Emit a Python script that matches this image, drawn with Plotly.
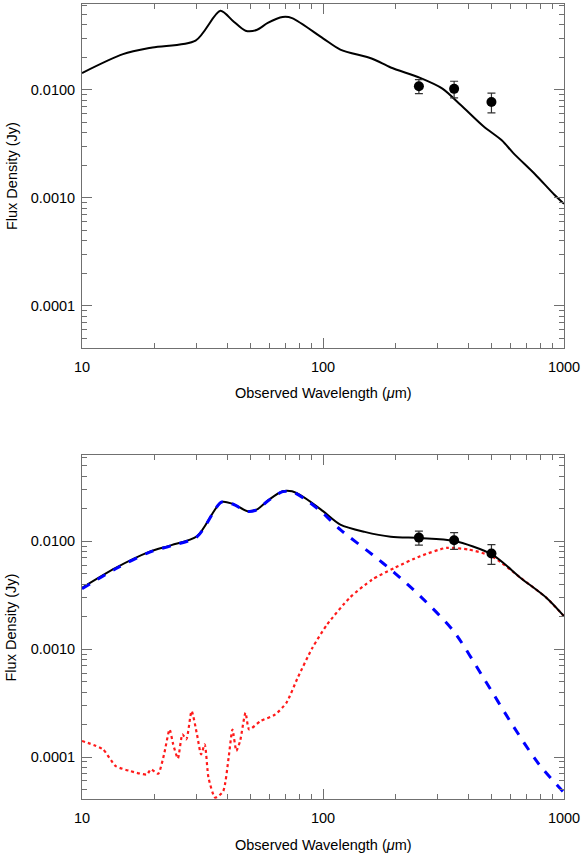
import plotly.graph_objects as go

# ---------------- data ----------------
# Top panel: single-component model SED
top_wave = [10, 14.8, 19.6, 29.6, 37.5, 42.2, 47.7, 53, 59, 68, 74.4, 100, 118, 160, 191,
            253, 313, 374, 463, 553, 615, 760, 910, 1000]
top_flux = [0.0143, 0.0214, 0.0247, 0.0286, 0.054, 0.0437, 0.0353, 0.0358, 0.0416, 0.0472,
            0.0462, 0.030, 0.0236, 0.0194, 0.0161, 0.0129, 0.01026, 0.00718, 0.00459,
            0.00339, 0.0026, 0.00164, 0.00107, 0.000877]

# Observed photometry (both panels)
obs_wave = [250, 350, 500]
obs_flux = [0.0108, 0.0102, 0.0077]
obs_err = [0.0016, 0.0018, 0.0016]

# Bottom panel: total model
tot_wave = [10, 13.8, 19, 23.5, 30, 37.9, 42.2, 48.6, 53, 59, 68, 74.4, 84, 100, 118, 149,
            191, 253, 348, 502, 661, 847, 1000]
tot_flux = [0.0037, 0.00566, 0.00796, 0.0092, 0.0111, 0.0231, 0.0222, 0.019, 0.0196, 0.0238,
            0.029, 0.029, 0.0252, 0.019, 0.01425, 0.0122, 0.011, 0.0107, 0.0101, 0.00754,
            0.00457, 0.00298, 0.00202]

# Bottom panel: warm component (blue dashed)
warm_wave = [10, 13.8, 19, 23.5, 30, 37.9, 42.2, 48.6, 53, 59, 68, 74.4, 84, 100, 118, 160,
             198, 253, 348, 463, 615, 788, 1000]
warm_flux = [0.00362, 0.00556, 0.00788, 0.0091, 0.0110, 0.0230, 0.0221, 0.0189, 0.0195, 0.0236,
             0.0288, 0.0287, 0.0247, 0.0182, 0.0128, 0.00753, 0.0051, 0.0031, 0.00147,
             0.000543, 0.000194, 8.55e-5, 4.67e-5]

# Bottom panel: cold component (red dotted)
cold_wave = [10, 12.2, 13.8, 15.9, 18.6, 19.3, 20.7, 21.9, 23.1, 23.9, 25, 26.1, 27.1, 28.5,
             30, 31.2, 32.3, 33.5, 35.7, 38.5, 40.6, 42.1, 43.7, 45.3, 47.7, 49.4, 55, 63.4,
             70.5, 78.5, 90.4, 104, 129, 160, 198, 253, 325, 401, 502, 661, 847, 1000]
cold_flux = [0.000141, 0.000118, 8.25e-5, 7.4e-5, 6.9e-5, 7.7e-5, 7.0e-5, 0.000106, 0.00018,
             0.000131, 9.7e-5, 0.000162, 0.000146, 0.000267, 0.000162, 0.000106, 0.000131,
             6.4e-5, 4.2e-5, 4.8e-5, 9.9e-5, 0.00018, 0.000114, 0.000141, 0.000257, 0.00018,
             0.000215, 0.000248, 0.000318, 0.000542, 0.00103, 0.00169, 0.00299, 0.00441,
             0.00566, 0.00726, 0.00867, 0.00838, 0.00726, 0.00457, 0.00298, 0.00202]

x_ticks = [10, 100, 1000]
x_ticktext = ["10", "100", "1000"]
y_ticks = [0.0001, 0.001, 0.01]
y_ticktext = ["0.0001", "0.0010", "0.0100"]
x_title = "Observed Wavelength (<i>μ</i>m)"
y_title = "Flux Density (Jy)"

# ---------------- figure ----------------
FONT = "Liberation Sans, Arial, Helvetica, sans-serif"
AXC = "#707070"

x_minor = [m * d for d in (10, 100) for m in range(2, 10)]
y_minor = [m * d for d in (1e-5, 1e-4, 1e-3, 1e-2) for m in range(2, 10)]

fig = go.Figure()

err = dict(type="data", array=obs_err, visible=True, color="#333333", thickness=1.2, width=4)

# top panel
fig.add_trace(go.Scatter(x=top_wave, y=top_flux, mode="lines",
                         line=dict(color="black", width=2, shape="spline", smoothing=0.8),
                         xaxis="x", yaxis="y", showlegend=False))
fig.add_trace(go.Scatter(x=obs_wave, y=obs_flux, mode="markers", error_y=err,
                         marker=dict(color="black", size=10), xaxis="x", yaxis="y",
                         showlegend=False))

# bottom panel
fig.add_trace(go.Scatter(x=cold_wave, y=cold_flux, mode="lines",
                         line=dict(color="#ff1a1a", width=2.2, dash="dot", shape="spline",
                                   smoothing=0.6),
                         xaxis="x2", yaxis="y2", showlegend=False))
fig.add_trace(go.Scatter(x=tot_wave, y=tot_flux, mode="lines",
                         line=dict(color="black", width=2, shape="spline", smoothing=0.8),
                         xaxis="x2", yaxis="y2", showlegend=False))
fig.add_trace(go.Scatter(x=warm_wave, y=warm_flux, mode="lines",
                         line=dict(color="#0000ff", width=3, dash="dash", shape="spline",
                                   smoothing=0.8),
                         xaxis="x2", yaxis="y2", showlegend=False))
fig.add_trace(go.Scatter(x=obs_wave, y=obs_flux, mode="markers", error_y=err,
                         marker=dict(color="black", size=10), xaxis="x2", yaxis="y2",
                         showlegend=False))

W, H = 583, 855
ML, MR, MT, MB = 82, 17, 3, 56
PH = H - MT - MB
PW = W - ML - MR


def frac_y(py):
    return (H - MB - py) / PH


def frac_x(px):
    return (px - ML) / PW


common_x = dict(type="log", range=[1, 3], showline=True, linecolor=AXC, linewidth=1,
                mirror="ticks", ticks="inside", ticklen=10, tickcolor=AXC, tickwidth=1,
                tickvals=x_ticks, ticktext=x_ticktext, showgrid=False, zeroline=False,
                tickfont=dict(family=FONT, size=14.5, color="black"),
                ticklabelstandoff=6,
                minor=dict(ticks="inside", ticklen=5, tickcolor=AXC, tickwidth=1,
                           tickvals=x_minor, showgrid=False))
common_y = dict(type="log", range=[-4.389, -1.205], showline=True, linecolor=AXC, linewidth=1,
                mirror="ticks", ticks="inside", ticklen=10, tickcolor=AXC, tickwidth=1,
                tickvals=y_ticks, ticktext=y_ticktext, showgrid=False, zeroline=False,
                tickfont=dict(family=FONT, size=14.5, color="black"),
                ticklabelstandoff=3,
                minor=dict(ticks="inside", ticklen=5, tickcolor=AXC, tickwidth=1,
                           tickvals=y_minor, showgrid=False))

top_dom = [frac_y(347), frac_y(3)]
bot_dom = [frac_y(799), frac_y(455)]

fig.update_layout(
    width=W, height=H,
    margin=dict(l=ML, r=MR, t=MT, b=MB),
    paper_bgcolor="white", plot_bgcolor="white",
    font=dict(family=FONT, size=14.5, color="black"),
    xaxis=dict(common_x, anchor="y", domain=[0, 1]),
    yaxis=dict(common_y, anchor="x", domain=top_dom),
    xaxis2=dict(common_x, anchor="y2", domain=[0, 1]),
    yaxis2=dict(common_y, anchor="x2", domain=bot_dom),
    showlegend=False,
)

ann_font = dict(family=FONT, size=14.5, color="black")
annotations = []
for py in (392, 845):
    annotations.append(dict(text=x_title, xref="paper", yref="paper", x=0.5, y=frac_y(py),
                            xanchor="center", yanchor="middle", showarrow=False, font=ann_font))
for py in (175, 627):
    annotations.append(dict(text=y_title, xref="paper", yref="paper", x=frac_x(11), y=frac_y(py),
                            xanchor="center", yanchor="middle", textangle=-90,
                            showarrow=False, font=ann_font))
fig.update_layout(annotations=annotations)

fig.write_html("out.html")
